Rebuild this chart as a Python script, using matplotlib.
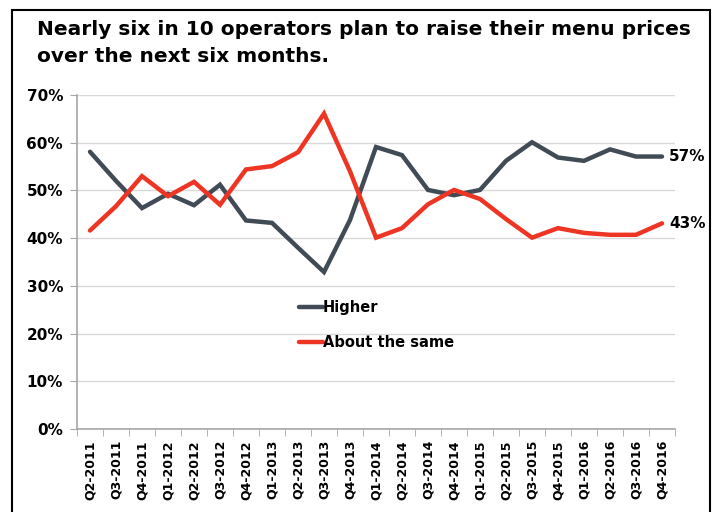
import matplotlib
matplotlib.use("Agg")
import matplotlib.pyplot as plt
from matplotlib.patches import Rectangle
from matplotlib.ticker import FixedLocator, NullFormatter

categories = ["Q2-2011", "Q3-2011", "Q4-2011", "Q1-2012", "Q2-2012", "Q3-2012",
              "Q4-2012", "Q1-2013", "Q2-2013", "Q3-2013", "Q4-2013", "Q1-2014",
              "Q2-2014", "Q3-2014", "Q4-2014", "Q1-2015", "Q2-2015", "Q3-2015",
              "Q4-2015", "Q1-2016", "Q2-2016", "Q3-2016", "Q4-2016"]
higher = [58.1, 52.0, 46.3, 49.3, 46.9, 51.2, 43.7, 43.2, 38.0, 32.9, 43.8, 59.1,
          57.4, 50.1, 49.0, 50.1, 56.2, 60.1, 56.9, 56.2, 58.6, 57.1, 57.1]
same = [41.6, 46.7, 53.0, 48.8, 51.8, 47.0, 54.4, 55.1, 58.0, 66.1, 54.0, 40.1,
        42.1, 47.1, 50.1, 48.2, 44.0, 40.1, 42.1, 41.1, 40.7, 40.7, 43.1]
title = "Nearly six in 10 operators plan to raise their menu prices\nover the next six months."
yticks = [0, 10, 20, 30, 40, 50, 60, 70]

dark = "#414b56"
red = "#ee3524"

fig = plt.figure(figsize=(7.15, 5.12), dpi=100)
fig.patches.append(Rectangle((12/715, -0.1), (710-12)/715, 1.1 - 10/512,
                             transform=fig.transFigure, fill=False,
                             edgecolor="black", linewidth=1.5))
fig.text(37/715, 1 - 20/512, title, fontsize=14.5, fontweight="bold",
         family="DejaVu Sans", va="top", ha="left", linespacing=1.5)

ax = fig.add_axes([77/715, 1 - 429/512, (675-77)/715, (429-95)/512])
x = list(range(len(categories)))
ax.plot(x, higher, color=dark, linewidth=3.2, solid_capstyle="round",
        solid_joinstyle="miter", label="Higher")
ax.plot(x, same, color=red, linewidth=3.2, solid_capstyle="round",
        solid_joinstyle="miter", label="About the same")

ax.set_xlim(-0.5, len(categories) - 0.5)
ax.set_ylim(0, 70)
ax.set_yticks(yticks)
ax.set_yticklabels([f"{v}%" for v in yticks], fontsize=11, fontweight="bold")
ax.yaxis.grid(True, color="#d9d9d9", linewidth=1)
ax.set_axisbelow(True)

ax.set_xticks(x)
ax.set_xticklabels(categories, rotation=90, fontsize=9, fontweight="bold")
ax.tick_params(axis="x", which="major", length=0, pad=8)
ax.xaxis.set_minor_locator(FixedLocator([i - 0.5 for i in range(len(categories) + 1)]))
ax.xaxis.set_minor_formatter(NullFormatter())
ax.tick_params(axis="x", which="minor", length=5, color="#a6a6a6", direction="out")
ax.tick_params(axis="y", length=5, color="#a6a6a6", pad=5)

for s in ["top", "right"]:
    ax.spines[s].set_visible(False)
for s in ["left", "bottom"]:
    ax.spines[s].set_color("#a6a6a6")
    ax.spines[s].set_linewidth(1.2)

ax.annotate(f"{higher[-1]:.0f}%", (x[-1], higher[-1]), xytext=(5, 0),
            textcoords="offset points", va="center", ha="left",
            fontsize=11, fontweight="bold")
ax.annotate(f"{same[-1]:.0f}%", (x[-1], same[-1]), xytext=(5, 0),
            textcoords="offset points", va="center", ha="left",
            fontsize=11, fontweight="bold")

leg = ax.legend(loc="upper left", bbox_to_anchor=(0.35, 0.425), frameon=False,
                prop={"weight": "bold", "size": 10.5}, handlelength=1.6,
                handletextpad=0.0, labelspacing=1.35)

fig.savefig("out.png", dpi=100)
